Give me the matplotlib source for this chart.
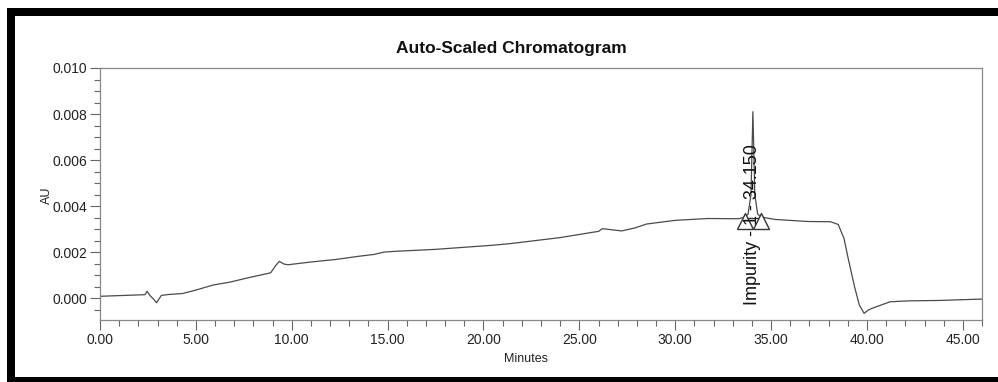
import matplotlib
matplotlib.use("Agg")
import matplotlib.pyplot as plt
from matplotlib.patches import Rectangle
from matplotlib.ticker import MultipleLocator, FormatStrFormatter

plt.rcParams["font.family"] = ["Liberation Sans", "DejaVu Sans"]

# trace (minutes, AU)
time_min = [0, 1.0, 2.0, 2.35, 2.45, 2.6, 2.8, 2.95, 3.2, 3.6, 4.3, 5.0, 5.9,
            6.8, 7.7, 8.9, 9.15, 9.35, 9.6, 9.8, 11.0, 12.3, 13.5, 14.3, 14.8,
            15.3, 17.5, 20.5, 21.4, 24.0, 25.6, 26.0, 26.2, 26.6, 27.2, 27.9,
            28.5, 30.0, 31.7, 33.3, 33.6, 33.8, 33.95, 34.05, 34.15, 34.3,
            34.5, 35.2, 36.9, 38.1, 38.5, 38.8, 39.0, 39.35, 39.6, 39.85, 40.1,
            40.4, 41.2, 42.1, 43.8, 46.0]
au = [0.00008, 0.00011, 0.00014, 0.00015, 0.00030, 0.00012, -0.00005,
      -0.00020, 0.00012, 0.00016, 0.00020, 0.00035, 0.00057, 0.00070,
      0.00088, 0.00110, 0.00140, 0.00160, 0.00148, 0.00145, 0.00157,
      0.00168, 0.00182, 0.00190, 0.00200, 0.00203, 0.00212, 0.00230,
      0.00237, 0.00263, 0.00285, 0.00290, 0.00302, 0.00298, 0.00292,
      0.00305, 0.00322, 0.00338, 0.00346, 0.00345, 0.00352, 0.00365,
      0.00450, 0.00810, 0.00450, 0.00365, 0.00352, 0.00342, 0.00333,
      0.00332, 0.00320, 0.00260, 0.00180, 0.00050, -0.00030, -0.00066,
      -0.00050, -0.00040, -0.00016, -0.00012, -0.00010, -0.00004]

# integration marks for the impurity peak
peak_label = "Impurity - 1 - 34.150"
peak_rt = 34.02
label_y = 0.0032
marker_t = [33.63, 34.47]
marker_au = [0.00335, 0.00335]
baseline_au = [0.0035, 0.0035]

fig = plt.figure(figsize=(9.98, 3.82), dpi=100)
ax = fig.add_axes([0.1002, 0.1623, 0.8838, 0.6597])

ax.plot(time_min, au, color="#4a4a4a", lw=0.9)
ax.plot(marker_t, baseline_au, color="#333333", lw=1.0)
ax.plot(marker_t, marker_au, ls="none", marker="^", ms=11,
        mfc="white", mec="#333333", mew=1.0)
ax.text(peak_rt, label_y, peak_label, rotation=90, ha="center", va="center",
        fontsize=13, color="#111111")

ax.set_xlim(0, 46)
ax.set_ylim(-0.00095, 0.010)
ax.xaxis.set_major_locator(MultipleLocator(5))
ax.xaxis.set_minor_locator(MultipleLocator(1))
ax.yaxis.set_major_locator(MultipleLocator(0.002))
ax.yaxis.set_minor_locator(MultipleLocator(0.0005))
ax.xaxis.set_major_formatter(FormatStrFormatter("%.2f"))
ax.yaxis.set_major_formatter(FormatStrFormatter("%.3f"))
ax.tick_params(which="major", direction="out", length=7, width=0.8,
               color="#666666", labelsize=10, labelcolor="#222222", pad=2)
ax.tick_params(which="minor", direction="out", length=4, width=0.8,
               color="#666666")
for s in ax.spines.values():
    s.set_color("#888888")
    s.set_linewidth(0.9)

fig.text(0.512, 0.872, "Auto-Scaled Chromatogram", ha="center", va="center",
         fontsize=12.5, fontweight="bold", color="#111111")
fig.text(0.527, 0.06, "Minutes", ha="center", va="center", fontsize=9,
         color="#222222")
fig.text(0.047, 0.49, "AU", ha="center", va="center", rotation=90,
         fontsize=9, color="#222222")

# scanned page frame
W, H = 998, 382
fig.add_artist(Rectangle((8 / W, (H - 16) / H), 1, 8 / H,
                         transform=fig.transFigure, color="black", lw=0))
fig.add_artist(Rectangle((7 / W, 0), 8 / W, (H - 8) / H,
                         transform=fig.transFigure, color="black", lw=0))
fig.add_artist(Rectangle((7 / W, 0), 1, 5 / H,
                         transform=fig.transFigure, color="black", lw=0))

fig.savefig("out.png", dpi=100)
